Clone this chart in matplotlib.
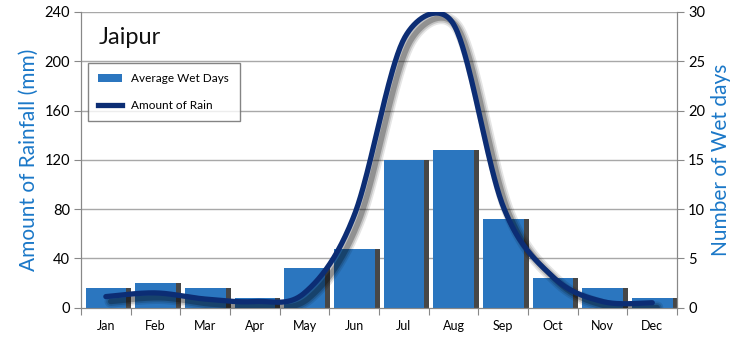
import numpy as np
import matplotlib
matplotlib.use("Agg")
import matplotlib.pyplot as plt
import matplotlib.patheffects as pe
from matplotlib.patches import Patch
from matplotlib.lines import Line2D

months = ["Jan", "Feb", "Mar", "Apr", "May", "Jun", "Jul", "Aug", "Sep", "Oct", "Nov", "Dec"]
wet_days = [2, 2.5, 2, 1, 4, 6, 15, 16, 9, 3, 2, 1]
rain_mm = [9, 12, 7, 5, 12, 75, 218, 230, 82, 25, 5, 4]
rain_ticks = [0, 40, 80, 120, 160, 200, 240]
day_ticks = [0, 5, 10, 15, 20, 25, 30]

plt.rcParams['font.family'] = ['Lato', 'DejaVu Sans']

def smooth_curve(x, y, sx, sy, n=40):
    # spreadsheet-style Bezier smoothing, control distances clipped to half segment
    P = np.column_stack([np.asarray(x, float) * sx, np.asarray(y, float) * sy])
    N = len(P)
    t = np.linspace(0, 1, n)[:, None]
    pts = []
    for i in range(N - 1):
        p0 = P[i - 1] if i > 0 else P[i]
        p1, p2 = P[i], P[i + 1]
        p3 = P[i + 2] if i + 2 < N else P[i + 1]
        d12 = np.linalg.norm(p2 - p1)
        d02 = np.linalg.norm(p2 - p0)
        d13 = np.linalg.norm(p3 - p1)
        f1 = min(1 / 6, d12 / (2 * d02)) if d02 > 0 else 0
        f2 = min(1 / 6, d12 / (2 * d13)) if d13 > 0 else 0
        c1 = p1 + (p2 - p0) * f1
        c2 = p2 - (p3 - p1) * f2
        seg = (1 - t)**3 * p1 + 3 * (1 - t)**2 * t * c1 + 3 * (1 - t) * t**2 * c2 + t**3 * p2
        pts.append(seg)
    pts = np.vstack(pts)
    return pts[:, 0] / sx, pts[:, 1] / sy

fig = plt.figure(figsize=(7.4, 3.41), dpi=100)
ax = fig.add_axes([0.1095, 0.0977, 0.8055, 0.8673])
ax2 = ax.twinx()

x = np.arange(len(months))
blue = "#2b76bf"
label_blue = "#1b78c8"

# bars (wet days) on ax, ticks on right
ax.bar(x + 0.1, wet_days, width=0.82, color="#474747", zorder=2)
ax.bar(x, wet_days, width=0.82, color=blue, zorder=3)
ax.set_ylim(0, 30)
ax.set_xlim(-0.5, len(months) - 0.5)
ax.yaxis.tick_right()
ax.yaxis.set_label_position("right")
ax.set_yticks(day_ticks)
ax.set_ylabel("Number of Wet days", color=label_blue, fontsize=15, labelpad=4)
ax.set_axisbelow(True)

# line (rain) on ax2, ticks on left
ax2.set_ylim(0, 240)
ax2.yaxis.tick_left()
ax2.yaxis.set_label_position("left")
ax2.set_yticks(rain_ticks)
ax2.set_ylabel("Amount of Rainfall (mm)", color=label_blue, fontsize=15, labelpad=4)
for yv in rain_ticks[1:]:
    ax.axhline(yv / 8, color="#a8a8a8", lw=1, zorder=1)

px_per_month = 596 / 12
px_per_mm = 296 / 240
cx, cy = smooth_curve(x, rain_mm, px_per_month, px_per_mm)
shadow = [
    pe.SimpleLineShadow(offset=(3.5, -3.5), shadow_color="#000000", alpha=0.10, linewidth=9),
    pe.SimpleLineShadow(offset=(3.5, -3.5), shadow_color="#000000", alpha=0.15, linewidth=6.5),
    pe.SimpleLineShadow(offset=(3.5, -3.5), shadow_color="#000000", alpha=0.25, linewidth=4),
    pe.Normal(),
]
ax2.plot(cx, cy, color="#0c2d74", lw=3.8, solid_capstyle="round", path_effects=shadow, zorder=5)

ax.set_xticks(np.arange(-0.5, len(months), 1), minor=False)
ax.set_xticklabels([])
ax.set_xticks(x, minor=True)
ax.set_xticklabels(months, minor=True, fontsize=9)
ax.tick_params(axis="x", which="minor", length=0, pad=9)
ax.tick_params(axis="x", which="major", length=5, color="#888888")
ax.tick_params(axis="y", length=5, color="#888888", labelsize=10.5, pad=3)
ax2.tick_params(axis="y", length=5, color="#888888", labelsize=10.5, pad=3)

for a in (ax, ax2):
    a.spines["top"].set_visible(False)
    for s in ("left", "right", "bottom"):
        a.spines[s].set_color("#888888")

ax2.text(0.03, 0.915, "Jaipur", transform=ax.transAxes, fontsize=17, color="#111111", va="center")

handles = [Patch(facecolor=blue, edgecolor="none"), Line2D([0], [0], color="#0c2d74", lw=3.8)]
leg = ax2.legend(handles, ["Average Wet Days", "Amount of Rain"], loc="upper left",
                 bbox_to_anchor=(0.011, 0.828), fontsize=8.5, frameon=True, fancybox=False,
                 edgecolor="#666666", handlelength=2.0, handletextpad=0.8, borderpad=0.9,
                 labelspacing=1.3, borderaxespad=0)
leg.get_frame().set_linewidth(1)

fig.savefig("out.png", dpi=100)
